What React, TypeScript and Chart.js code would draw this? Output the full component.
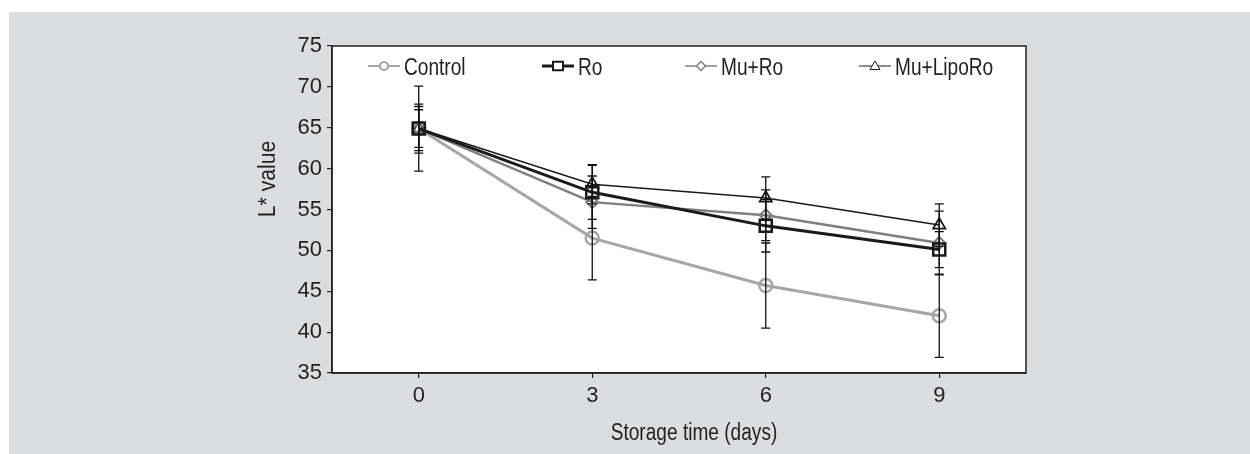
import React, { useEffect, useRef } from "react";
import { Chart, registerables } from "chart.js";

Chart.register(...registerables);

const categories = ["0", "3", "6", "9"];
const seriesNames = ["Control", "Ro", "Mu+Ro", "Mu+LipoRo"];
const controlValues = [64.9, 51.5, 45.7, 42.0];
const roValues = [64.9, 57.1, 53.0, 50.1];
const muRoValues = [64.9, 55.9, 54.3, 50.9];
const muLipoRoValues = [64.9, 58.1, 56.4, 53.1];
const controlErr = [5.2, 5.1, 5.2, 5.1];
const roErr = [3.0, 3.3, 3.2, 2.2];
const muRoErr = [2.7, 3.2, 3.1, 3.9];
const muLipoRoErr = [2.3, 2.4, 2.6, 2.6];
const yTicks = [35, 40, 45, 50, 55, 60, 65, 70, 75];
const xTitle = "Storage time (days)";
const yTitle = "L* value";

const FONT = "'Liberation Sans Narrow', 'Arial Narrow', 'Liberation Sans', Arial, sans-serif";
const TEXT = "#231f20";
const LEGEND_X = [36, 210, 353, 527];
const NARROW = 0.83;

type Marker = "circle" | "rect" | "rectRot" | "triangle";

function drawMarker(ctx: CanvasRenderingContext2D, kind: Marker, x: number, y: number, r: number) {
  ctx.beginPath();
  if (kind === "circle") {
    ctx.arc(x, y, r, 0, Math.PI * 2);
  } else if (kind === "rect") {
    ctx.rect(x - r, y - r * 0.85, 2 * r, 1.7 * r);
  } else if (kind === "rectRot") {
    ctx.moveTo(x, y - r);
    ctx.lineTo(x + r, y);
    ctx.lineTo(x, y + r);
    ctx.lineTo(x - r, y);
    ctx.closePath();
  } else {
    ctx.moveTo(x, y - r);
    ctx.lineTo(x + r, y + r * 0.7);
    ctx.lineTo(x - r, y + r * 0.7);
    ctx.closePath();
  }
  ctx.fillStyle = "#fff";
  ctx.fill();
  ctx.stroke();
}

function narrowText(
  ctx: CanvasRenderingContext2D,
  text: string,
  x: number,
  y: number,
  align: CanvasTextAlign,
  sx: number
) {
  ctx.save();
  ctx.translate(x, y);
  ctx.scale(sx, 1);
  ctx.textAlign = align;
  ctx.fillText(text, 0, 0);
  ctx.restore();
}

const decor = {
  id: "decor",
  beforeDraw(chart: any) {
    const { ctx, chartArea: a } = chart;
    ctx.save();
    ctx.fillStyle = "#fff";
    ctx.fillRect(a.left, a.top, a.right - a.left, a.bottom - a.top);
    ctx.restore();
  },
  afterDatasetsDraw(chart: any) {
    const { ctx } = chart;
    const yScale = chart.scales.y;
    ctx.save();
    ctx.strokeStyle = "#111";
    ctx.lineWidth = 1.3;
    chart.data.datasets.forEach((ds: any, i: number) => {
      const meta = chart.getDatasetMeta(i);
      ds.data.forEach((v: number, j: number) => {
        const e = ds.errors[j];
        const x = meta.data[j].x;
        const yt = yScale.getPixelForValue(v + e);
        const yb = yScale.getPixelForValue(v - e);
        ctx.beginPath();
        ctx.moveTo(x, yt);
        ctx.lineTo(x, yb);
        ctx.moveTo(x - 4.5, yt);
        ctx.lineTo(x + 4.5, yt);
        ctx.moveTo(x - 4.5, yb);
        ctx.lineTo(x + 4.5, yb);
        ctx.stroke();
      });
    });
    ctx.restore();
  },
  afterDraw(chart: any) {
    const { ctx, chartArea: a } = chart;
    ctx.save();
    ctx.strokeStyle = "#222";
    ctx.lineWidth = 1.5;
    ctx.strokeRect(a.left, a.top, a.right - a.left, a.bottom - a.top);

    // legend
    ctx.font = `23px ${FONT}`;
    ctx.textBaseline = "alphabetic";
    const ly = a.top + 20;
    chart.data.datasets.forEach((ds: any, i: number) => {
      const x0 = a.left + LEGEND_X[i];
      ctx.strokeStyle = ds.borderColor;
      ctx.lineWidth = ds.legendLine;
      ctx.beginPath();
      ctx.moveTo(x0, ly);
      ctx.lineTo(x0 + 32, ly);
      ctx.stroke();
      ctx.lineWidth = Math.min(ds.legendLine, 2);
      drawMarker(ctx, ds.pointStyle, x0 + 16, ly, ds.legendMarker);
      ctx.fillStyle = TEXT;
      narrowText(ctx, ds.label, x0 + 36, ly + 9, "left", NARROW);
    });

    // axis titles
    ctx.fillStyle = TEXT;
    narrowText(ctx, xTitle, (a.left + a.right) / 2 + 15, a.bottom + 67, "center", NARROW);
    ctx.translate(a.left - 57, a.top + 133);
    ctx.rotate(-Math.PI / 2);
    narrowText(ctx, yTitle, 0, 0, "center", 0.92);
    ctx.restore();
  },
};

export default function App() {
  const ref = useRef<HTMLCanvasElement | null>(null);

  useEffect(() => {
    if (!ref.current) return;
    const chart = new Chart(ref.current, {
      type: "line",
      data: {
        labels: categories,
        datasets: [
          {
            label: seriesNames[0],
            data: controlValues,
            errors: controlErr,
            borderColor: "#a6a6a6",
            borderWidth: 3,
            pointStyle: "circle",
            pointRadius: 6.5,
            pointBorderWidth: 2.5,
            pointBackgroundColor: "rgba(255,255,255,0)",
            legendLine: 2,
            legendMarker: 4,
            order: 4,
          },
          {
            label: seriesNames[1],
            data: roValues,
            errors: roErr,
            borderColor: "#1a1a1a",
            borderWidth: 3,
            pointStyle: "rect",
            pointRadius: 8.5,
            pointBorderWidth: 2.5,
            pointBackgroundColor: "rgba(255,255,255,0)",
            legendLine: 3,
            legendMarker: 5,
            order: 1,
          },
          {
            label: seriesNames[2],
            data: muRoValues,
            errors: muRoErr,
            borderColor: "#7f7f7f",
            borderWidth: 2.5,
            pointStyle: "rectRot",
            pointRadius: 6,
            pointBorderWidth: 2,
            pointBackgroundColor: "rgba(255,255,255,0)",
            legendLine: 1.5,
            legendMarker: 4.5,
            order: 2,
          },
          {
            label: seriesNames[3],
            data: muLipoRoValues,
            errors: muLipoRoErr,
            borderColor: "#1a1a1a",
            borderWidth: 1.5,
            pointStyle: "triangle",
            pointRadius: 7,
            pointBorderWidth: 1.8,
            pointBackgroundColor: "rgba(255,255,255,0)",
            legendLine: 1,
            legendMarker: 5,
            order: 3,
          },
        ] as any,
      },
      options: {
        animation: false,
        responsive: true,
        maintainAspectRatio: false,
        layout: { padding: { left: 0, top: 34, right: 224, bottom: 0 } },
        plugins: { legend: { display: false }, tooltip: { enabled: false } },
        elements: { line: { tension: 0 } },
        scales: {
          x: {
            type: "category",
            offset: true,
            grid: { display: true, drawOnChartArea: false, drawTicks: true, tickLength: 5, color: "#222", lineWidth: 1.2 },
            border: { display: true, color: "#222", width: 1.5 },
            ticks: { font: { family: FONT, size: 22 }, color: TEXT, padding: 5 },
            afterFit: (s: any) => {
              s.height = 81;
            },
          },
          y: {
            type: "linear",
            min: yTicks[0],
            max: yTicks[yTicks.length - 1],
            afterBuildTicks: (s: any) => {
              s.ticks = yTicks.map((v) => ({ value: v }));
            },
            grid: { display: true, drawOnChartArea: false, drawTicks: true, tickLength: 5, color: "#222", lineWidth: 1.2 },
            border: { display: true, color: "#222", width: 1.5 },
            ticks: { font: { family: FONT, size: 22 }, color: TEXT, padding: 5 },
            afterFit: (s: any) => {
              s.width = 323;
            },
          },
        },
      },
      plugins: [decor],
    } as any);
    return () => chart.destroy();
  }, []);

  return (
    <div
      style={{
        position: "fixed",
        left: 9,
        top: 12,
        width: 1241,
        height: 442,
        background: "#dcdddf",
      }}
    >
      <canvas ref={ref} />
    </div>
  );
}
